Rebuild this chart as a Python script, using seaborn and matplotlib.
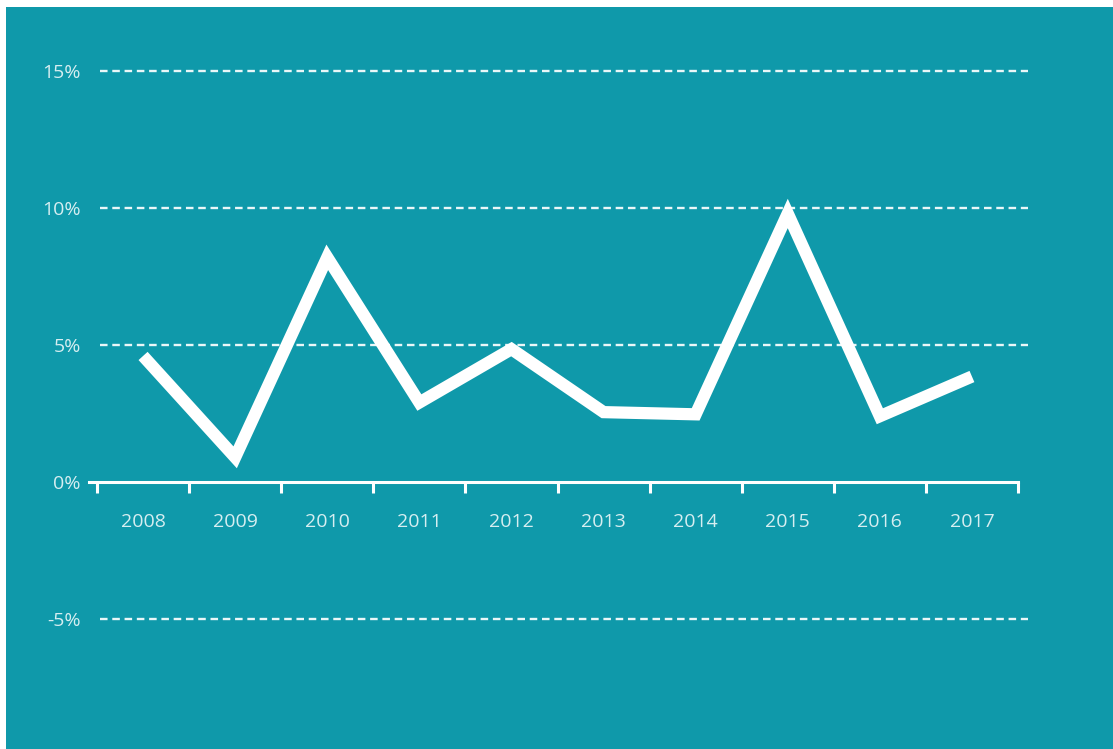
import numpy as np
import pandas as pd
import matplotlib
matplotlib.use("Agg")
import matplotlib.pyplot as plt
from matplotlib.patches import Rectangle
import seaborn as sns

# Annual growth, percent
years = ["2008", "2009", "2010", "2011", "2012", "2013", "2014", "2015", "2016", "2017"]
growth = [4.6, 0.9, 8.2, 2.9, 4.85, 2.55, 2.47, 9.8, 2.4, 3.85]
y_ticks = [-5, 0, 5, 10, 15]
y_tick_labels = ["-5%", "0%", "5%", "10%", "15%"]
grid_levels = [-5, 5, 10, 15]

TEAL = "#0F99AA"
TEXT = "#D6EEF1"

sns.set_theme(style="white")
plt.rcParams["font.family"] = ["Open Sans", "DejaVu Sans"]

df = pd.DataFrame({"pos": np.arange(len(years)), "growth": growth})

fig = plt.figure(figsize=(11.13, 7.49), dpi=100, facecolor="white")
W, H = 1113, 749
fig.patches.append(Rectangle((6 / W, 0), 1, (H - 7) / H, transform=fig.transFigure,
                             facecolor=TEAL, edgecolor="none", zorder=-10))

ax = fig.add_axes([89 / W, (H - 619) / H, (1018 - 89) / W, (619 - 71) / H])
ax.set_facecolor("none")
ax.patch.set_alpha(0)

# dashed reference lines
for lvl in grid_levels:
    ax.axhline(lvl, xmin=(100 - 89) / 929, xmax=(1028 - 89) / 929, color="#EAF7F8",
               lw=1.7, linestyle=(0, (3.2, 2.0)), clip_on=False, zorder=1)

sns.lineplot(data=df, x="pos", y="growth", ax=ax, color="white", linewidth=8.8,
             legend=False, zorder=3)
for ln in ax.get_lines()[-1:]:
    ln.set_solid_joinstyle("miter")
    ln.set_solid_capstyle("butt")
    ln.set_clip_on(False)

ax.set_xlim(-0.587, 9.5)
ax.set_ylim(-5, 15)

for side in ["top", "right", "left"]:
    ax.spines[side].set_visible(False)
ax.spines["bottom"].set_position(("data", 0))
ax.spines["bottom"].set_color("white")
ax.spines["bottom"].set_linewidth(2.2)
ax.spines["bottom"].set_zorder(2)

# boundary ticks (major) and year labels (minor)
ax.set_xticks(np.arange(len(years) + 1) - 0.5)
ax.set_xticklabels([])
ax.set_xticks(np.arange(len(years)), minor=True)
ax.set_xticklabels(years, minor=True)
ax.tick_params(axis="x", which="major", direction="out", length=8, width=2.2,
               color="white", bottom=True)
ax.tick_params(axis="x", which="minor", length=0, pad=22.5, labelsize=14,
               labelcolor=TEXT, bottom=True)

ax.set_yticks(y_ticks)
ax.set_yticklabels(y_tick_labels)
ax.tick_params(axis="y", length=0, pad=6, labelsize=14, labelcolor=TEXT)

ax.set_xlabel("")
ax.set_ylabel("")
ax.grid(False)

fig.savefig("out.png", dpi=100, facecolor="white")
